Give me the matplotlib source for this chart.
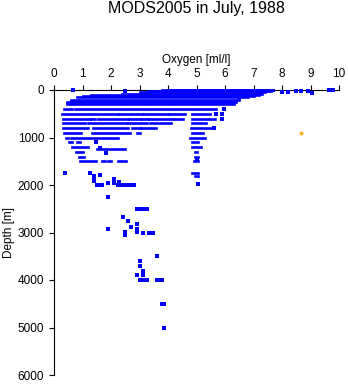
import matplotlib
matplotlib.use("Agg")
import matplotlib.pyplot as plt

plt.rcParams['font.family'] = ['Liberation Sans', 'DejaVu Sans']

# horizontal runs of casts sharing one standard depth: depth [m], oxygen from / to [ml/l]
streak_depth = [0, 10, 20, 30, 50, 75, 100, 125, 150, 200, 250, 300,
                400, 400, 400, 400, 400, 400,
                500, 500, 500, 500, 500, 500, 500,
                600, 600, 600, 600, 600, 600, 600, 600,
                700, 700, 700, 700, 700, 700, 700,
                800, 800, 800, 800, 800, 800,
                900, 900, 900, 900, 900,
                1000, 1000, 1000, 1000,
                1100, 1100, 1100,
                1200, 1250, 1200, 1300, 1300, 1400, 1400,
                1500, 1500, 1500, 1500, 1500,
                1750, 1800]
streak_lo = [4.0, 3.8, 3.5, 3.3, 3.0, 2.4, 1.3, 1.0, 0.8, 0.6, 0.45, 0.45,
             0.36, 0.74, 2.37, 3.25, 4.1, 4.9,
             0.29, 2.29, 2.7, 3.14, 3.6, 4.05, 4.83,
             0.33, 1.3, 1.53, 2.63, 3.1, 3.35, 4.07, 4.83,
             0.33, 1.2, 1.96, 2.6, 3.08, 3.37, 4.83,
             0.33, 1.38, 2.75, 3.06, 3.44, 4.8,
             0.36, 1.34, 2.55, 2.9, 4.83,
             0.43, 0.6, 1.26, 4.77,
             0.54, 0.8, 4.83,
             0.64, 1.5, 4.83, 0.77, 4.95, 0.88, 4.95,
             0.91, 1.67, 1.9, 2.25, 4.9,
             4.83, 4.95]
streak_hi = [7.7, 7.7, 7.6, 7.5, 7.4, 7.3, 7.2, 7.0, 6.8, 6.5, 6.4, 6.3,
             0.62, 2.3, 3.2, 4.05, 4.85, 5.7,
             2.26, 2.63, 3.08, 3.54, 4.0, 4.6, 5.47,
             1.26, 1.45, 2.6, 3.05, 3.3, 4.0, 4.54, 5.65,
             1.1, 1.9, 2.55, 3.0, 3.25, 4.1, 5.35,
             1.2, 2.6, 3.0, 3.38, 3.58, 5.5,
             0.95, 2.5, 2.65, 3.0, 5.24,
             0.5, 1.2, 2.26, 5.3,
             0.62, 0.9, 5.06,
             1.18, 2.5, 5.15, 1.0, 5.03, 1.06, 5.06,
             1.47, 1.79, 2.0, 2.53, 5.05,
             5.06, 5.06]

# single casts
point_oxygen = [0.65, 2.5, 6.5, 8.0, 8.22, 8.5, 8.66, 8.92, 9.07, 9.65, 9.79,
                5.95, 5.7, 5.9, 5.9, 5.62, 1.47, 1.61, 1.83, 5.0,
                0.39, 1.26, 1.42, 1.42, 1.61, 1.42, 1.5, 1.58, 1.67, 1.9,
                2.12, 2.12, 2.29, 2.26, 2.35, 2.45, 2.61, 2.7, 2.8, 5.06,
                1.9, 2.92, 3.0, 3.08, 3.16, 3.25, 2.41, 2.61, 2.92, 2.71,
                1.9, 2.92, 2.92, 2.49, 2.49, 3.13, 3.34, 3.41, 3.48,
                3.63, 3.02, 3.02, 3.11, 3.11, 3.11, 2.92,
                3.02, 3.1, 3.18, 3.25, 3.63, 3.7, 3.78,
                3.78, 3.86, 3.87]
point_depth = [0, 20, 170, 40, 35, 30, 30, 20, 55, 0, 0,
               400, 500, 500, 600, 800, 1100, 1220, 1330, 1450,
               1750, 1750, 1800, 1830, 1790, 1920, 2000, 2000, 2000, 1950,
               1880, 1960, 1930, 2000, 2000, 2000, 2000, 2000, 2000, 1985,
               2260, 2500, 2500, 2500, 2500, 2500, 2680, 2765, 2830, 2890,
               2925, 2925, 2990, 2990, 3050, 3000, 3000, 3000, 3000,
               3500, 3590, 3700, 3800, 3850, 3900, 3900,
               4000, 4000, 4000, 4000, 4000, 4000, 4000,
               4500, 4500, 5000]

# flagged value
flag_oxygen = [8.65]
flag_depth = [900]

fig = plt.figure(figsize=(3.48, 3.84), dpi=100)
ax = fig.add_axes([54 / 348, 9 / 384, 285 / 348, 285 / 384])

ax.hlines(streak_depth, streak_lo, streak_hi, colors='#0000ff',
          linewidth=1.9, capstyle='projecting', clip_on=False, zorder=3)
ax.plot(point_oxygen, point_depth, 's', color='#0000ff', markersize=2.3,
        markeredgewidth=0, clip_on=False, zorder=3)
ax.plot(flag_oxygen, flag_depth, 'P', color='#ffa500', markersize=3.2,
        markeredgewidth=0, clip_on=False, zorder=4)

ax.set_xlim(0, 10)
ax.set_ylim(6000, 0)
ax.set_xticks(range(0, 11))
ax.set_yticks(range(0, 6001, 1000))

ax.spines['right'].set_visible(False)
ax.spines['bottom'].set_visible(False)
ax.spines['top'].set_linewidth(0.8)
ax.spines['left'].set_linewidth(0.8)
ax.xaxis.tick_top()
ax.xaxis.set_label_position('top')
ax.tick_params(direction='out', length=3.6, width=0.8, labelsize=8.5, pad=3.5)

ax.set_xlabel('Oxygen [ml/l]', fontsize=8.5, labelpad=4)
ax.set_ylabel('Depth [m]', fontsize=8.5, labelpad=2)

fig.text(196 / 348, 1 - 8 / 384, 'MODS2005 in July, 1988', fontsize=11.5,
         ha='center', va='center')

fig.savefig('out.png', dpi=100)
